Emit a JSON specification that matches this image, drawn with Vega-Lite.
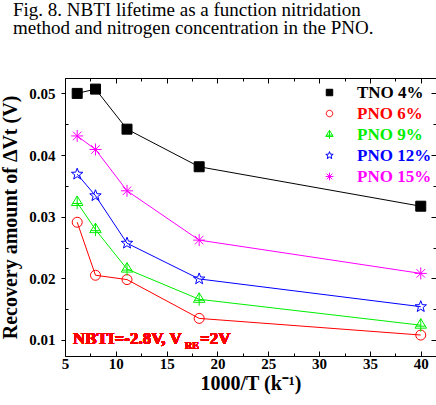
{
  "$schema": "https://vega.github.io/schema/vega-lite/v6.json",
  "width": 371,
  "height": 278,
  "autosize": "none",
  "padding": {"left": 65, "top": 78, "right": 0, "bottom": 49},
  "background": "white",
  "title": {
    "text": ["Fig. 8. NBTI lifetime as a function nitridation", "method and nitrogen concentration in the PNO."],
    "anchor": "start",
    "frame": "group",
    "dx": -52,
    "offset": 40,
    "font": "Liberation Serif",
    "fontSize": 19,
    "fontWeight": "normal",
    "lineHeight": 18,
    "color": "black"
  },
  "config": {
    "view": {"stroke": null},
    "axis": {
      "domainColor": "black",
      "tickColor": "black",
      "labelColor": "black",
      "titleColor": "black",
      "labelFont": "Liberation Serif",
      "titleFont": "Liberation Serif",
      "labelFontWeight": "bold",
      "titleFontWeight": "bold",
      "labelFontSize": 15,
      "titleFontSize": 20,
      "grid": false
    },
    "legend": {
      "title": null,
      "orient": "none",
      "legendX": 256,
      "legendY": 6,
      "symbolSize": 42,
      "symbolStrokeWidth": 1,
      "labelFont": "Liberation Serif",
      "labelFontWeight": "bold",
      "labelFontSize": 17,
      "labelOffset": 19,
      "rowPadding": 3,
      "padding": 0
    }
  },
  "data": {
    "values": [
      {"series": "TNO 4%", "x": 6.2, "y": 0.0500},
      {"series": "TNO 4%", "x": 8.0, "y": 0.0507},
      {"series": "TNO 4%", "x": 11.1, "y": 0.0442},
      {"series": "TNO 4%", "x": 18.2, "y": 0.0381},
      {"series": "TNO 4%", "x": 40.0, "y": 0.0317},
      {"series": "PNO 6%", "x": 6.2, "y": 0.0291},
      {"series": "PNO 6%", "x": 8.0, "y": 0.0205},
      {"series": "PNO 6%", "x": 11.1, "y": 0.0198},
      {"series": "PNO 6%", "x": 18.2, "y": 0.0135},
      {"series": "PNO 6%", "x": 40.0, "y": 0.0108},
      {"series": "PNO 9%", "x": 6.2, "y": 0.0323},
      {"series": "PNO 9%", "x": 8.0, "y": 0.0279},
      {"series": "PNO 9%", "x": 11.1, "y": 0.0215},
      {"series": "PNO 9%", "x": 18.2, "y": 0.0166},
      {"series": "PNO 9%", "x": 40.0, "y": 0.0124},
      {"series": "PNO 12%", "x": 6.2, "y": 0.0369},
      {"series": "PNO 12%", "x": 8.0, "y": 0.0334},
      {"series": "PNO 12%", "x": 11.1, "y": 0.0257},
      {"series": "PNO 12%", "x": 18.2, "y": 0.0199},
      {"series": "PNO 12%", "x": 40.0, "y": 0.0154},
      {"series": "PNO 15%", "x": 6.2, "y": 0.0431},
      {"series": "PNO 15%", "x": 8.0, "y": 0.0409},
      {"series": "PNO 15%", "x": 11.1, "y": 0.0342},
      {"series": "PNO 15%", "x": 18.2, "y": 0.0262},
      {"series": "PNO 15%", "x": 40.0, "y": 0.0208}
    ]
  },
  "layer": [
    {
      "mark": {"type": "line", "strokeWidth": 1},
      "encoding": {
        "x": {
          "field": "x", "type": "quantitative",
          "scale": {"domain": [5, 41.5], "nice": false, "zero": false},
          "axis": {
            "orient": "bottom",
            "title": "1000/T (k⁻¹)",
            "values": [5, 7.5, 10, 12.5, 15, 17.5, 20, 22.5, 25, 27.5, 30, 32.5, 35, 37.5, 40],
            "labelExpr": "datum.value % 5 === 0 ? format(datum.value, 'd') : ''",
            "tickSize": {"condition": {"test": "datum.value % 5 === 0", "value": -5}, "value": -3},
            "labelPadding": 5,
            "titlePadding": 2,
            "labelFlush": false
          }
        },
        "y": {
          "field": "y", "type": "quantitative",
          "scale": {"domain": [0.0074, 0.0525], "nice": false, "zero": false},
          "axis": {
            "orient": "left",
            "title": "Recovery amount of ΔVt (V)",
            "values": [0.01, 0.015, 0.02, 0.025, 0.03, 0.035, 0.04, 0.045, 0.05],
            "labelExpr": "abs(datum.value*100 - round(datum.value*100)) < 0.01 ? format(datum.value, '.2f') : ''",
            "tickSize": {"condition": {"test": "abs(datum.value*100 - round(datum.value*100)) < 0.01", "value": 4}, "value": -3},
            "labelPadding": 6,
            "titlePadding": 8,
            "labelFlush": false
          }
        },
        "stroke": {
          "field": "series", "type": "nominal",
          "scale": {"domain": ["TNO 4%", "PNO 6%", "PNO 9%", "PNO 12%", "PNO 15%"], "range": ["#000000", "#ff0000", "#00ee00", "#0000ff", "#ff00ff"]},
          "legend": {
            "encode": {
              "labels": {"update": {"fill": {"scale": "stroke", "field": "value"}}}
            }
          }
        }
      }
    },
    {
      "mark": {"type": "point", "size": 100, "strokeWidth": 1, "opacity": 1},
      "encoding": {
        "x": {
          "field": "x", "type": "quantitative",
          "axis": {
            "orient": "top", "title": null, "labels": false,
            "values": [5, 7.5, 10, 12.5, 15, 17.5, 20, 22.5, 25, 27.5, 30, 32.5, 35, 37.5, 40],
            "tickSize": {"condition": {"test": "datum.value % 5 === 0", "value": -5}, "value": -3}
          }
        },
        "y": {
          "field": "y", "type": "quantitative",
          "axis": {
            "orient": "right", "title": null, "labels": false,
            "values": [0.01, 0.015, 0.02, 0.025, 0.03, 0.035, 0.04, 0.045, 0.05],
            "tickSize": {"condition": {"test": "abs(datum.value*100 - round(datum.value*100)) < 0.01", "value": -5}, "value": -3}
          }
        },
        "stroke": {"field": "series", "type": "nominal"},
        "fill": {
          "field": "series", "type": "nominal",
          "scale": {"domain": ["TNO 4%", "PNO 6%", "PNO 9%", "PNO 12%", "PNO 15%"], "range": ["#000000", "transparent", "transparent", "transparent", "transparent"]}
        },
        "shape": {
          "field": "series", "type": "nominal",
          "scale": {"domain": ["TNO 4%", "PNO 6%", "PNO 9%", "PNO 12%", "PNO 15%"], "range": [
            "M-1,-1H1V1H-1Z",
            "M-1,0A1,1 0 1,1 1,0A1,1 0 1,1 -1,0Z",
            "M0,-1.3L1.15,0.6H-1.15ZM0,-1.3V1.3M-1,0.2H1",
            "M0,-1.2L0.294,-0.405L1.141,-0.371L0.476,0.155L0.705,0.971L0,0.5L-0.705,0.971L-0.476,0.155L-1.141,-0.371L-0.294,-0.405Z",
            "M-1.2,0H1.2M0,-1.2V1.2M-0.85,-0.85L0.85,0.85M-0.85,0.85L0.85,-0.85"
          ]}
        }
      }
    },
    {
      "mark": {"type": "text", "align": "left", "baseline": "alphabetic", "font": "Liberation Serif", "fontWeight": "bold", "fontSize": 17, "color": "#ff0000"},
      "encoding": {
        "x": {"datum": 5.79, "type": "quantitative", "axis": null},
        "y": {"datum": 0.00935, "type": "quantitative", "axis": null},
        "text": {"value": "NBTI=-2.8V, V"}
      }
    },
    {
      "mark": {"type": "text", "align": "left", "baseline": "alphabetic", "font": "Liberation Serif", "fontWeight": "bold", "fontSize": 10, "color": "#ff0000", "dx": 112, "dy": 5},
      "encoding": {
        "x": {"datum": 5.79, "type": "quantitative", "axis": null},
        "y": {"datum": 0.00935, "type": "quantitative", "axis": null},
        "text": {"value": "RE"}
      }
    },
    {
      "mark": {"type": "text", "align": "left", "baseline": "alphabetic", "font": "Liberation Serif", "fontWeight": "bold", "fontSize": 17, "color": "#ff0000", "dx": 127},
      "encoding": {
        "x": {"datum": 5.79, "type": "quantitative", "axis": null},
        "y": {"datum": 0.00935, "type": "quantitative", "axis": null},
        "text": {"value": "=2V"}
      }
    }
  ],
  "resolve": {"axis": {"x": "independent", "y": "independent"}}
}
